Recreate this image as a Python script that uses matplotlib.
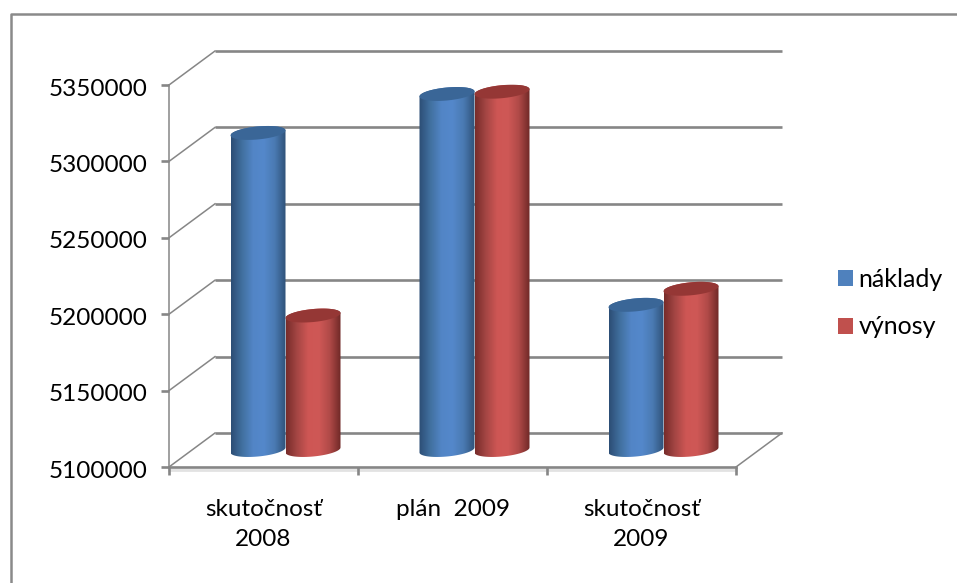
import numpy as np
import matplotlib
matplotlib.use('Agg')
import matplotlib.pyplot as plt
from matplotlib.colors import LinearSegmentedColormap
from matplotlib.lines import Line2D
from matplotlib.patches import Patch, Polygon
from matplotlib.path import Path
from matplotlib.transforms import Affine2D

categories = ['skutočnosť\n2008', 'plán  2009', 'skutočnosť\n2009']
naklady = [5307500, 5333000, 5195000]
vynosy = [5188000, 5334500, 5205500]
y_ticks = [5100000, 5150000, 5200000, 5250000, 5300000, 5350000]

plt.rcParams['font.family'] = ['Lato', 'DejaVu Sans']

W, H = 957, 583
fig = plt.figure(figsize=(W / 100, H / 100), dpi=100)
ax = fig.add_axes([169 / W, (H - 467) / H, 567 / W, 382 / H])
ax.set_xlim(0, 3)
ax.set_ylim(y_ticks[0], y_ticks[-1])
ax.set_autoscale_on(False)
ax.patch.set_visible(False)

# pixel sizes converted to data units
px_x = 3 / 567
px_y = (y_ticks[-1] - y_ticks[0]) / 382
depth_x = 46 * px_x
depth_y = 34 * px_y
GRID = '#868686'

# walls and floor
for i, level in enumerate(y_ticks):
    ax.plot([depth_x, 3 + depth_x], [level + depth_y] * 2, color=GRID, lw=1.9,
            clip_on=False, zorder=1, solid_capstyle='butt')
    ax.plot([0, depth_x], [level, level + depth_y], color=GRID, lw=1.1,
            clip_on=False, zorder=1)
ax.plot([3, 3 + depth_x], [y_ticks[0], y_ticks[0] + depth_y], color=GRID, lw=1.1,
        clip_on=False, zorder=1)
ax.plot([0, 3], [y_ticks[0] - 2.5 * px_y] * 2, color='#e2e2e2', lw=2,
        clip_on=False, zorder=1)

blue_map = LinearSegmentedColormap.from_list('b', ['#2c4d75', '#41709f', '#5285c6', '#5488cb', '#4a7ab2', '#2f5279'])
red_map = LinearSegmentedColormap.from_list('r', ['#772c2a', '#a54644', '#ce5654', '#cf5856', '#b04a48', '#6f2927'])
ramp = np.linspace(0, 1, 128).reshape(1, -1)

bar_w = 55 * px_x
radius_y = 6.5 * px_y
tilt = 2.5 * px_y
mid_x = 22 * px_x
mid_y = depth_y / 2


def ring(cx, cy, start, stop):
    t = np.linspace(start, stop, 60)
    xs = cx + bar_w / 2 * np.cos(t)
    ys = cy + radius_y * np.sin(t) + tilt * np.cos(t)
    return np.column_stack([xs, ys])


def cylinder(cx, value, cmap, top_color, z):
    base = y_ticks[0] + mid_y
    top = value + mid_y
    body = np.vstack([ring(cx, base, np.pi, 2 * np.pi), ring(cx, top, 0, np.pi)])
    im = ax.imshow(ramp, cmap=cmap, aspect='auto', zorder=z, interpolation='bilinear',
                   extent=[cx - bar_w / 2, cx + bar_w / 2, base - 3 * radius_y, top + 3 * radius_y])
    im.set_clip_path(Path(body), transform=ax.transData)
    ax.add_patch(Polygon(ring(cx, top, 0, 2 * np.pi), closed=True, facecolor=top_color,
                         edgecolor='none', zorder=z + 0.1, clip_on=False))


for i in range(len(categories)):
    center = i + 0.5 + mid_x
    cylinder(center - bar_w / 2, naklady[i], blue_map, '#3a6697', 2 + i)
    cylinder(center + bar_w / 2, vynosy[i], red_map, '#953735', 2.5 + i)

ax.set_xlim(0, 3)
ax.set_ylim(y_ticks[0], y_ticks[-1])

# axes lines, ticks and labels
for side in ['top', 'right']:
    ax.spines[side].set_visible(False)
ax.spines['left'].set_color(GRID)
ax.spines['left'].set_linewidth(1.1)
ax.spines['bottom'].set_color(GRID)
ax.spines['bottom'].set_linewidth(1.9)
ax.set_yticks(y_ticks)
ax.set_yticklabels([str(v) for v in y_ticks], fontsize=17.5, color='black')
ax.tick_params(axis='y', length=5.5, width=1.9, color=GRID, pad=10)
for lbl in ax.get_yticklabels():
    lbl.set_transform(lbl.get_transform() + Affine2D().translate(0, -2))
ax.set_xticks([0, 1, 2, 3])
ax.set_xticklabels([])
ax.tick_params(axis='x', which='major', length=6, width=1.9, color=GRID)
ax.set_xticks([0.5, 1.5, 2.5], minor=True)
ax.set_xticklabels(categories, minor=True, fontsize=17.5, color='black', linespacing=1.55)
ax.tick_params(axis='x', which='minor', length=0, pad=23)

handles = [Patch(facecolor='#4f81bd', label='náklady'), Patch(facecolor='#c0504d', label='výnosy')]
fig.legend(handles=handles, loc='upper left', bbox_to_anchor=(838 / W, 1 - 268 / H), frameon=False,
           fontsize=18, handlelength=0.6, handleheight=0.6, handletextpad=0.22,
           labelspacing=0.98, borderpad=0, borderaxespad=0)

# outer chart border, only top and left are inside the image
fig.add_artist(Line2D([10.5 / W, 10.5 / W, 1], [0, 1 - 14 / H, 1 - 14 / H], color='#8a8a8a', lw=1.8,
                      transform=fig.transFigure))

fig.savefig('out.png', dpi=100)
